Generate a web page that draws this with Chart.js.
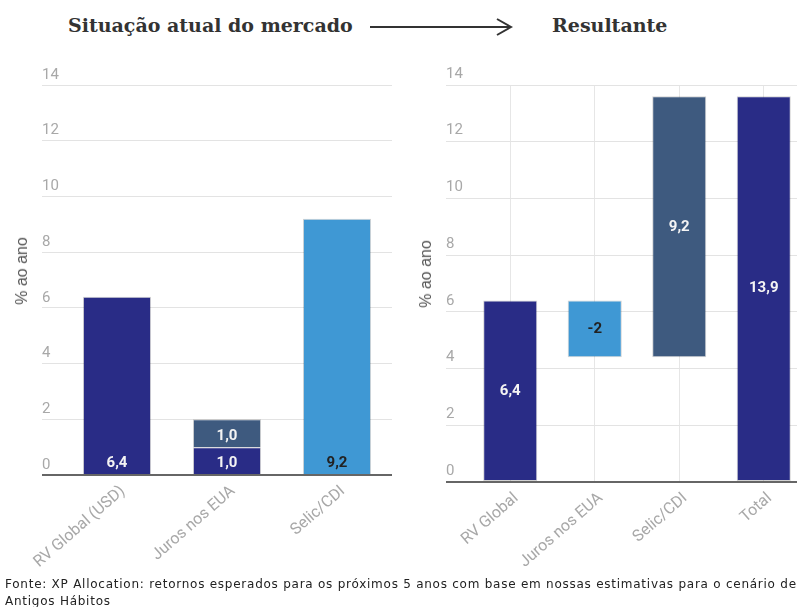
<!DOCTYPE html>
<html>
<head>
<meta charset="utf-8">
<script src="https://cdn.jsdelivr.net/npm/chart.js@4.4.0/dist/chart.umd.min.js"></script>
<style>
  html, body { margin: 0; padding: 0; }
  body { width: 797px; height: 607px; overflow: hidden; background: #fff; position: relative; font-family: Roboto, sans-serif; }
  .title { position: absolute; top: 14px; font: bold 19px/22px 'DejaVu Serif', serif; color: #333; white-space: nowrap; }
  .ytitle { position: absolute; font: 16px 'Liberation Sans', Arial, sans-serif; color: #555; transform: translate(-50%, -50%) rotate(-90deg); white-space: nowrap; }
  canvas { position: absolute; }
  #note { position: absolute; left: 5px; top: 576px; font: 12px/17px 'DejaVu Sans', sans-serif; letter-spacing: 0.75px; color: #222; white-space: nowrap; }
</style>
</head>
<body>
<div class="title" style="left:68px">Situação atual do mercado</div>
<svg style="position:absolute;left:0;top:0" width="797" height="60">
  <line x1="370" y1="27" x2="511" y2="27" stroke="#333" stroke-width="2"/>
  <polyline points="497,19 511,27 497,35" fill="none" stroke="#333" stroke-width="2"/>
</svg>
<div class="title" style="left:552px">Resultante</div>
<canvas id="left" width="400" height="520" style="left:0;top:60px"></canvas>
<canvas id="right" width="420" height="520" style="left:400px;top:60px"></canvas>
<div class="ytitle" style="left:22px;top:271px">% ao ano</div>
<div class="ytitle" style="left:426px;top:274px">% ao ano</div>
<div id="note">Fonte: XP Allocation: retornos esperados para os próximos 5 anos com base em nossas estimativas para o cenário de<br>Antigos Hábitos</div>
<script>
// left panel: current market
const leftCategories = ['RV Global (USD)', 'Juros nos EUA', 'Selic/CDI'];
const leftBase = [6.4, 1.0, 9.2];
const leftTop = [null, 1.0, null];
const leftBaseText = ['6,4', '1,0', '9,2'];
const leftTopText = [null, '1,0', null];

// right panel: resulting waterfall
const rightCategories = ['RV Global', 'Juros nos EUA', 'Selic/CDI', 'Total'];
const rightFrom = [0, 4.4, 4.4, 0];
const rightTo = [6.4, 6.4, 13.6, 13.6];
const rightText = ['6,4', '-2', '9,2', '13,9'];

const yTicks = [0, 2, 4, 6, 8, 10, 12, 14];

const NAVY = '#292c86', SLATE = '#3e5a7f', SKY = '#3f98d4';
const TICK_GRAY = '#a8a8a8';

const barText = {
  id: 'barText',
  afterDatasetsDraw(chart, args, opts) {
    const ctx = chart.ctx;
    ctx.save();
    ctx.font = 'bold 15px Roboto, sans-serif';
    ctx.textAlign = 'center';
    ctx.textBaseline = 'middle';
    chart.data.datasets.forEach((ds, i) => {
      chart.getDatasetMeta(i).data.forEach((bar, j) => {
        const txt = ds.valueText[j];
        if (!txt) return;
        const p = bar.getProps(['x', 'y', 'base'], true);
        ctx.fillStyle = ds.textColor[j];
        const ty = opts.atBase ? p.base - 11 : (p.y + p.base) / 2;
        ctx.fillText(txt, p.x, ty);
      });
    });
    ctx.restore();
  }
};

function yScale(axisWidth, shift, stacked) {
  const zero = c => c.tick.value === 0;
  return {
    stacked,
    min: yTicks[0],
    max: yTicks[yTicks.length - 1],
    afterFit: s => { s.width = axisWidth; },
    border: { display: false },
    grid: {
      color: c => zero(c) ? '#666' : '#e3e3e3',
      tickColor: c => zero(c) ? '#666' : '#e3e3e3',
      lineWidth: c => zero(c) ? 2 : 1,
      tickWidth: c => zero(c) ? 2 : 1,
      tickLength: axisWidth
    },
    ticks: {
      stepSize: yTicks[1] - yTicks[0],
      crossAlign: 'far',
      padding: 0,
      labelOffset: shift,
      color: TICK_GRAY,
      font: { family: 'Roboto', size: 15 }
    }
  };
}

function xScale(h, showGrid, stacked) {
  return {
    stacked,
    afterFit: s => { s.height = h; },
    border: { display: false },
    grid: { display: showGrid, offset: false, drawTicks: false, color: '#e6e6e6' },
    ticks: {
      autoSkip: false,
      minRotation: 41,
      maxRotation: 41,
      padding: 7,
      labelOffset: 6,
      color: TICK_GRAY,
      font: { family: 'Roboto', size: 16 }
    }
  };
}

new Chart(document.getElementById('left'), {
  type: 'bar',
  data: {
    labels: leftCategories,
    datasets: [
      {
        data: leftBase,
        backgroundColor: [NAVY, NAVY, SKY],
        borderColor: 'rgba(0,0,0,0.18)',
        borderWidth: 1,
        valueText: leftBaseText,
        textColor: ['#f4f4f4', '#f4f4f4', '#222']
      },
      {
        data: leftTop,
        backgroundColor: SLATE,
        borderColor: 'rgba(0,0,0,0.18)',
        borderWidth: 1,
        valueText: leftTopText,
        textColor: ['#f4f4f4', '#f4f4f4', '#f4f4f4']
      }
    ]
  },
  options: {
    responsive: false,
    animation: false,
    barPercentage: 0.62,
    categoryPercentage: 1,
    layout: { padding: { left: 42, right: 8, top: 25, bottom: 0 } },
    scales: { x: xScale(105, false, true), y: yScale(20, -10, true) },
    plugins: { legend: { display: false }, tooltip: { enabled: false }, barText: { atBase: true } }
  },
  plugins: [barText]
});

new Chart(document.getElementById('right'), {
  type: 'bar',
  data: {
    labels: rightCategories,
    datasets: [{
      data: rightFrom.map((v, i) => [v, rightTo[i]]),
      backgroundColor: [NAVY, SKY, SLATE, NAVY],
      borderColor: 'rgba(0,0,0,0.18)',
      borderWidth: 1,
      borderSkipped: false,
      valueText: rightText,
      textColor: ['#f4f4f4', '#222', '#f4f4f4', '#f4f4f4']
    }]
  },
  options: {
    responsive: false,
    animation: false,
    barPercentage: 0.64,
    categoryPercentage: 1,
    layout: { padding: { left: 46, right: 14, top: 25, bottom: 0 } },
    scales: { x: xScale(98, true, false), y: yScale(22, -11, false) },
    plugins: { legend: { display: false }, tooltip: { enabled: false }, barText: { atBase: false } }
  },
  plugins: [barText]
});
</script>
</body>
</html>
